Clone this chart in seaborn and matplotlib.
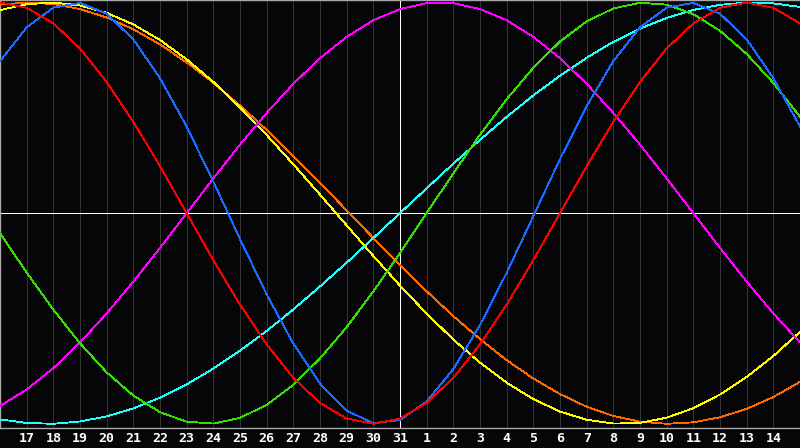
import matplotlib
matplotlib.use("Agg")
import matplotlib.pyplot as plt
import seaborn as sns
import pandas as pd
import numpy as np

# day positions (grid index) and their labels
days = list(range(0, 31))
tick_pos = list(range(1, 30))
tick_labels = ["17", "18", "19", "20", "21", "22", "23", "24", "25", "26", "27", "28", "29", "30", "31",
               "1", "2", "3", "4", "5", "6", "7", "8", "9", "10", "11", "12", "13", "14"]

# values at each day grid line (-1 .. 1)
red = [1.00, 0.975, 0.901, 0.782, 0.623, 0.434, 0.223, 0.0, -0.223, -0.434, -0.623, -0.782, -0.901, -0.975,
       -1.00, -0.975, -0.901, -0.782, -0.623, -0.434, -0.223, 0.0, 0.223, 0.434, 0.623, 0.782, 0.901, 0.975,
       1.00, 0.975, 0.901]
blue = [0.721, 0.882, 0.976, 0.998, 0.947, 0.825, 0.641, 0.411, 0.150, -0.123, -0.386, -0.620, -0.809, -0.938,
        -0.997, -0.982, -0.894, -0.740, -0.531, -0.283, -0.014, 0.257, 0.508, 0.722, 0.882, 0.976, 0.998, 0.947,
        0.825, 0.641, 0.411]
green = [-0.095, -0.282, -0.458, -0.618, -0.756, -0.866, -0.945, -0.990, -0.999, -0.972, -0.910, -0.815, -0.690,
         -0.541, -0.372, -0.189, 0.0, 0.189, 0.372, 0.541, 0.690, 0.815, 0.910, 0.972, 0.999, 0.990, 0.945, 0.866,
         0.756, 0.618, 0.458]
magenta = [-0.916, -0.837, -0.736, -0.614, -0.476, -0.325, -0.165, 0.0, 0.165, 0.325, 0.476, 0.614, 0.736, 0.837,
           0.916, 0.969, 0.997, 0.997, 0.969, 0.916, 0.837, 0.736, 0.614, 0.476, 0.325, 0.165, 0.0, -0.165, -0.325,
           -0.476, -0.614]
cyan = [-0.979, -0.996, -1.000, -0.989, -0.965, -0.927, -0.876, -0.813, -0.738, -0.653, -0.559, -0.457, -0.348,
        -0.235, -0.118, 0.0, 0.118, 0.235, 0.348, 0.457, 0.559, 0.653, 0.738, 0.813, 0.876, 0.927, 0.965, 0.989,
        1.000, 0.996, 0.979]
yellow = [0.964, 0.992, 1.000, 0.986, 0.951, 0.896, 0.822, 0.730, 0.623, 0.502, 0.371, 0.232, 0.088, -0.058,
          -0.203, -0.344, -0.477, -0.600, -0.710, -0.805, -0.883, -0.942, -0.981, -0.999, -0.996, -0.971, -0.926,
          -0.861, -0.778, -0.678, -0.564]
orange = [0.990, 1.000, 0.993, 0.969, 0.929, 0.873, 0.801, 0.716, 0.619, 0.511, 0.395, 0.271, 0.144, 0.013,
          -0.118, -0.246, -0.371, -0.489, -0.598, -0.698, -0.785, -0.859, -0.919, -0.963, -0.990, -1.000, -0.993,
          -0.969, -0.929, -0.873, -0.801]

series = {"orange": orange, "yellow": yellow, "cyan": cyan, "magenta": magenta,
          "green": green, "blue": blue, "red": red}
palette = {"orange": "#ff6a00", "yellow": "#ffff00", "cyan": "#22ffff", "magenta": "#ff00ff",
           "green": "#33e000", "blue": "#1a6cff", "red": "#ff0000"}

df = pd.concat([pd.DataFrame({"day": days, "value": v, "series": k}) for k, v in series.items()],
               ignore_index=True)

bg = "#060609"
sns.set_style("dark")
plt.rcParams["font.family"] = ["DejaVu Sans Mono", "DejaVu Sans"]

fig = plt.figure(figsize=(8.0, 4.48), dpi=100, facecolor=bg)
ax = fig.add_axes([0.0, 20 / 448, 1.0, 428 / 448])
ax.set_facecolor(bg)

for p in tick_pos:
    ax.axvline(p, color="#ffffff" if p == 15 else "#343434", lw=0.6, zorder=1, antialiased=False)
ax.axhline(0, color="#ffffff", lw=0.6, zorder=1, antialiased=False)

sns.lineplot(data=df, x="day", y="value", hue="series", palette=palette, hue_order=list(series.keys()),
             legend=False, lw=0.6, ax=ax, zorder=3, antialiased=False)

ax.set_xlim(0, 30)
ax.set_ylim(-1.02, 1.012)
ax.set_xticks(tick_pos)
ax.set_xticklabels(tick_labels, color="white", fontsize=9.5, fontweight="bold")
ax.set_yticks([])
ax.tick_params(axis="x", length=0, pad=3.0)
ax.set_xlabel("")
ax.set_ylabel("")
ax.grid(False)
for s in ["left", "top", "bottom"]:
    ax.spines[s].set_visible(True)
    ax.spines[s].set_color("#a8a8a8")
    ax.spines[s].set_linewidth(1.0)
ax.spines["right"].set_visible(False)

fig.savefig("out.png", dpi=100, facecolor=bg)
